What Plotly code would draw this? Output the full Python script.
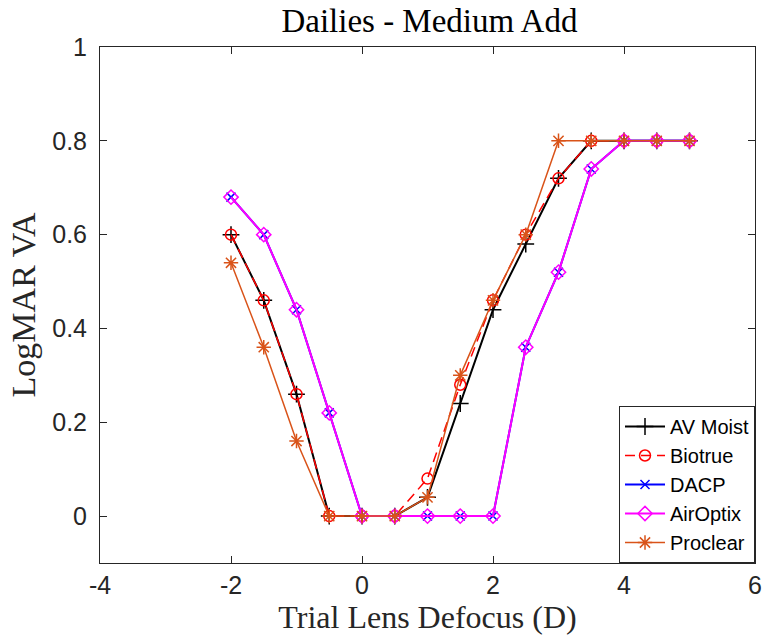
import plotly.graph_objects as go

# Trial lens defocus (D)
defocus = [-2, -1.5, -1, -0.5, 0, 0.5, 1, 1.5, 2, 2.5, 3, 3.5, 4, 4.5, 5]

# LogMAR VA per lens
av_moist = [0.60, 0.46, 0.26, 0, 0, 0, 0.04, 0.24, 0.44, 0.58, 0.72, 0.80, 0.80, 0.80, 0.80]
biotrue = [0.60, 0.46, 0.26, 0, 0, 0, 0.08, 0.28, 0.46, 0.60, 0.72, 0.80, 0.80, 0.80, 0.80]
dacp = [0.68, 0.60, 0.44, 0.22, 0, 0, 0, 0, 0, 0.36, 0.52, 0.74, 0.80, 0.80, 0.80]
airoptix = [0.68, 0.60, 0.44, 0.22, 0, 0, 0, 0, 0, 0.36, 0.52, 0.74, 0.80, 0.80, 0.80]
proclear = [0.54, 0.36, 0.16, 0, 0, 0, 0.04, 0.30, 0.46, 0.60, 0.80, 0.80, 0.80, 0.80, 0.80]

x_ticks = [-4, -2, 0, 2, 4, 6]
x_tick_text = ["-4", "-2", "0", "2", "4", "6"]
y_ticks = [0, 0.2, 0.4, 0.6, 0.8, 1]
y_tick_text = ["0", "0.2", "0.4", "0.6", "0.8", "1"]

series = [
    ("AV Moist", av_moist, "#000000", "solid", 2, "cross-thin-open", 12),
    ("Biotrue", biotrue, "#FF0000", "10px,6px", 1.5, "circle-open", 11),
    ("DACP", dacp, "#0000FF", "solid", 2, "x-thin-open", 9),
    ("AirOptix", airoptix, "#FF00FF", "solid", 2, "diamond-open", 11),
    ("Proclear", proclear, "#D95319", "solid", 1.5, "asterisk-open", 12),
]

fig = go.Figure()
for name, ys, color, dash, width, symbol, size in series:
    fig.add_trace(go.Scatter(
        x=defocus, y=ys, name=name, mode="lines+markers",
        line=dict(color=color, width=width, dash=dash),
        marker=dict(symbol=symbol, size=size, color=color,
                    line=dict(color=color, width=1.5)),
    ))

tick_font = dict(family="Liberation Sans, Arial, sans-serif", size=25, color="#262626")

axis_common = dict(
    showgrid=False, zeroline=False, showline=True, linecolor="#262626",
    linewidth=1, mirror="ticks", ticks="inside", ticklen=7, tickwidth=1,
    tickcolor="#262626", tickfont=tick_font,
)

fig.update_layout(
    width=771, height=636,
    margin=dict(l=100, r=9, t=47, b=73),
    paper_bgcolor="white", plot_bgcolor="white",
    title=dict(text="Dailies - Medium Add", x=0.557, xanchor="center",
               y=0.968, yanchor="middle",
               font=dict(family="Liberation Serif, serif", size=33, color="#000000")),
    xaxis=dict(range=[-4, 6], tickvals=x_ticks, ticktext=x_tick_text,
               title=dict(text="Trial Lens Defocus (D)", standoff=0,
                          font=dict(family="Liberation Serif, serif", size=32, color="#262626")),
               **axis_common),
    yaxis=dict(range=[-0.1, 1], tickvals=y_ticks, ticktext=y_tick_text,
               ticklabelstandoff=7,
               title=dict(text="LogMAR VA", standoff=6,
                          font=dict(family="Liberation Serif, serif", size=34, color="#262626")),
               **axis_common),
    legend=dict(x=1, y=0, xanchor="right", yanchor="bottom",
                bgcolor="white", bordercolor="#262626", borderwidth=1,
                font=dict(family="Liberation Sans, Arial, sans-serif", size=20, color="#000000"),
                tracegroupgap=0, itemwidth=40),
    showlegend=True,
)

fig.write_html("out.html")
